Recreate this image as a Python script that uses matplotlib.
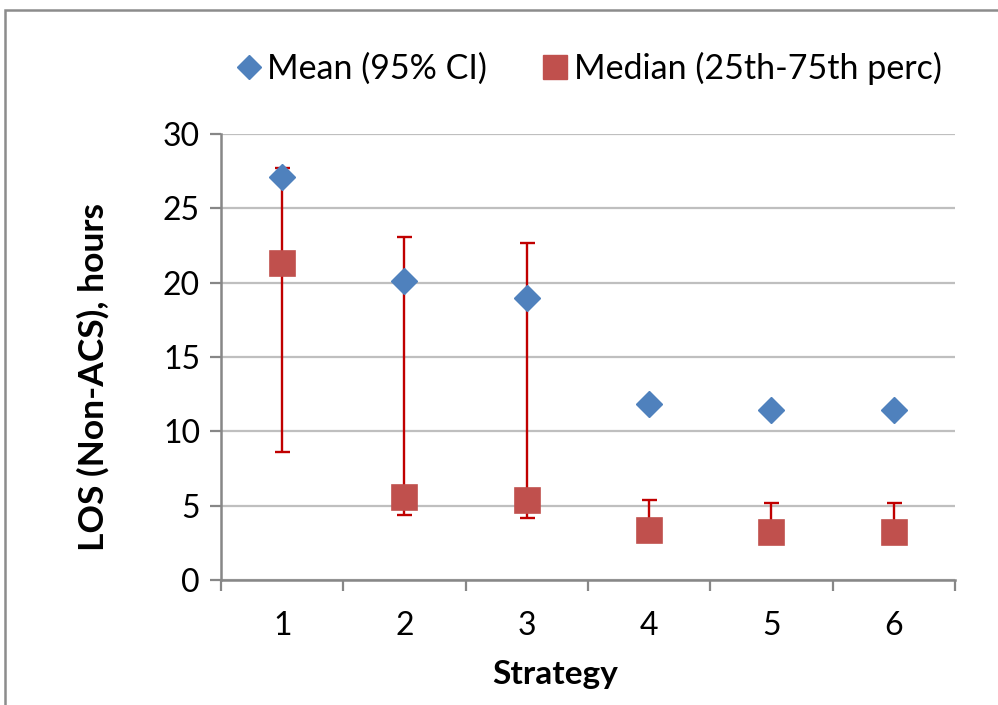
import numpy as np
import matplotlib
matplotlib.use("Agg")
import matplotlib.pyplot as plt
from matplotlib.lines import Line2D
from matplotlib.patches import Rectangle

plt.rcParams['font.family'] = ['Lato', 'DejaVu Sans']

strategies = ["1", "2", "3", "4", "5", "6"]
mean_los = [27.1, 20.1, 19.0, 11.85, 11.45, 11.45]
median_los = [21.35, 5.6, 5.35, 3.35, 3.25, 3.25]
perc25 = [8.6, 4.35, 4.15, 2.6, 2.6, 2.6]
perc75 = [27.7, 23.1, 22.65, 5.35, 5.2, 5.15]

blue = "#4F81BD"
red = "#C0504D"
bar_red = "#C00000"
axis_gray = "#878787"
grid_gray = "#BFBFBF"

fig = plt.figure(figsize=(9.98, 7.05), dpi=100)
ax = fig.add_axes([0.2214, 0.1773, 0.7355, 0.6326])

x = np.arange(1, len(strategies) + 1)
med = np.array(median_los)
yerr = [med - np.array(perc25), np.array(perc75) - med]

ax.errorbar(x, med, yerr=yerr, fmt="none", ecolor=bar_red, elinewidth=1.7,
            capsize=5.4, capthick=1.7, zorder=3)
ax.plot(x, med, linestyle="none", marker="s", markersize=18, color=red,
        markeredgecolor=red, markeredgewidth=1.2, zorder=4)
ax.plot(x, mean_los, linestyle="none", marker="D", markersize=13.2, color=blue,
        markeredgecolor=blue, zorder=5)

ax.set_xlim(0.5, 6.5)
ax.set_ylim(0, 30)
ax.set_yticks(np.arange(0, 31, 5))
ax.yaxis.grid(True, color=grid_gray, linewidth=1.6)
ax.set_axisbelow(True)

# category boundaries get the tick marks, labels sit at the centres
ax.set_xticks(np.arange(0.5, 6.6, 1.0))
ax.set_xticklabels([])
ax.set_xticks(x, minor=True)
ax.set_xticklabels(strategies, minor=True)
ax.tick_params(axis="x", which="major", length=8, width=1.6, color=axis_gray)
ax.tick_params(axis="x", which="minor", length=0, pad=22, labelsize=23)
ax.tick_params(axis="y", length=8, width=1.6, color=axis_gray, labelsize=23, pad=7)

for side in ["top", "right"]:
    ax.spines[side].set_visible(False)
for side in ["left", "bottom"]:
    ax.spines[side].set_color(axis_gray)
    ax.spines[side].set_linewidth(1.8)

ax.set_ylabel("LOS (Non-ACS), hours", fontsize=25.5, fontweight="bold")
ax.yaxis.set_label_coords(-0.152, 0.455)
ax.set_xlabel("Strategy", fontsize=24, fontweight="bold")
ax.xaxis.set_label_coords(0.455, -0.18)

handles = [
    Line2D([], [], linestyle="none", marker="D", markersize=12, color=blue),
    Line2D([], [], linestyle="none", marker="s", markersize=17, color=red),
]
fig.legend(handles, ["Mean (95% CI)", "Median (25th-75th perc)"], loc="center",
           bbox_to_anchor=(0.588, 0.9035), ncol=2, frameon=False, fontsize=24.5,
           handletextpad=0.05, columnspacing=1.5, handlelength=1.0)

fig.patches.append(Rectangle((5 / 998, -0.1), 1.2, 1.0858, transform=fig.transFigure,
                             fill=False, edgecolor="#8C8C8C", linewidth=1.8))

fig.savefig("out.png", dpi=100)
